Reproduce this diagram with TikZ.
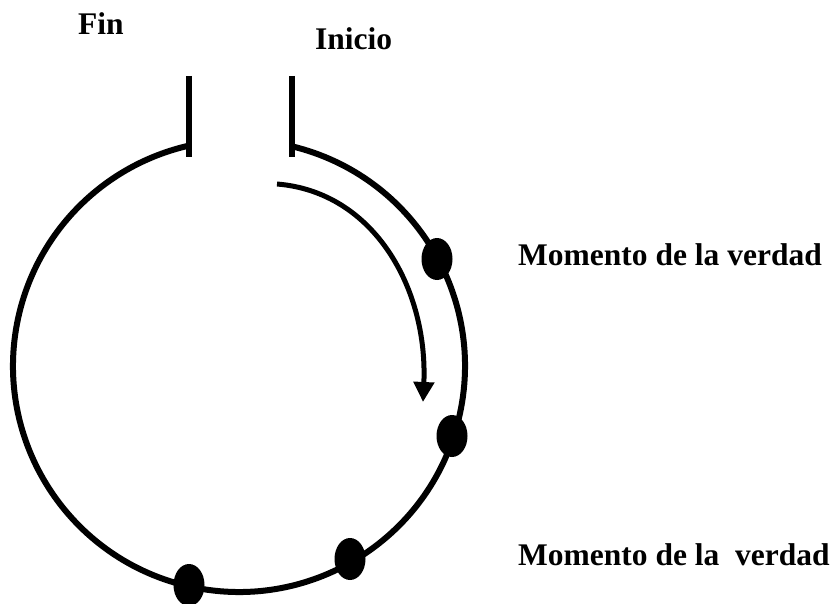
\documentclass[tikz,border=0pt]{standalone}
\usepackage{fontspec}
\setmainfont{Liberation Serif}
\usetikzlibrary{shapes.geometric,arrows.meta}
\begin{document}
\begin{tikzpicture}[x=1pt,y=-1pt,
  lbl/.style={font=\bfseries\fontsize{31.5}{36}\selectfont,inner sep=0pt,anchor=base west},
  moment/.style={ellipse,fill=black,draw=none,minimum width=31pt,minimum height=42pt,inner sep=0pt},
  ring/.style={line width=6pt},
  flow/.style={line width=5pt,-{Triangle[length=20pt,width=20pt]}}]
\useasboundingbox (0,0) rectangle (835,604);
% stubs
\coordinate (ltop) at (189,76);
\coordinate (lbot) at (189,157);
\coordinate (rtop) at (292,76);
\coordinate (rbot) at (292,157);
\draw[ring] (ltop) -- (lbot);
\draw[ring] (rtop) -- (rbot);
% ring
\coordinate (ctr) at (239,366);
\draw[ring] ([shift={(-76.4:226)}]ctr) arc[start angle=-76.4,end angle=257.2,radius=226];
% arrow
\coordinate (astart) at (277,184);
\coordinate (aend) at (423,402);
\draw[flow] (astart) .. controls (375,192) and (428,290) .. (aend);
% dots
\node[moment] (m1) at (437,259) {};
\node[moment] (m2) at (452,436) {};
\node[moment] (m3) at (350,559) {};
\node[moment] (m4) at (189,585) {};
% labels
\node[lbl] (fin) at (78,35) {Fin};
\node[lbl] (ini) at (315,50) {Inicio};
\node[lbl] (t1) at (518,265) {Momento de la verdad};
\node[lbl] (t2) at (518,565) {Momento de la\ \ verdad};
\end{tikzpicture}
\end{document}
